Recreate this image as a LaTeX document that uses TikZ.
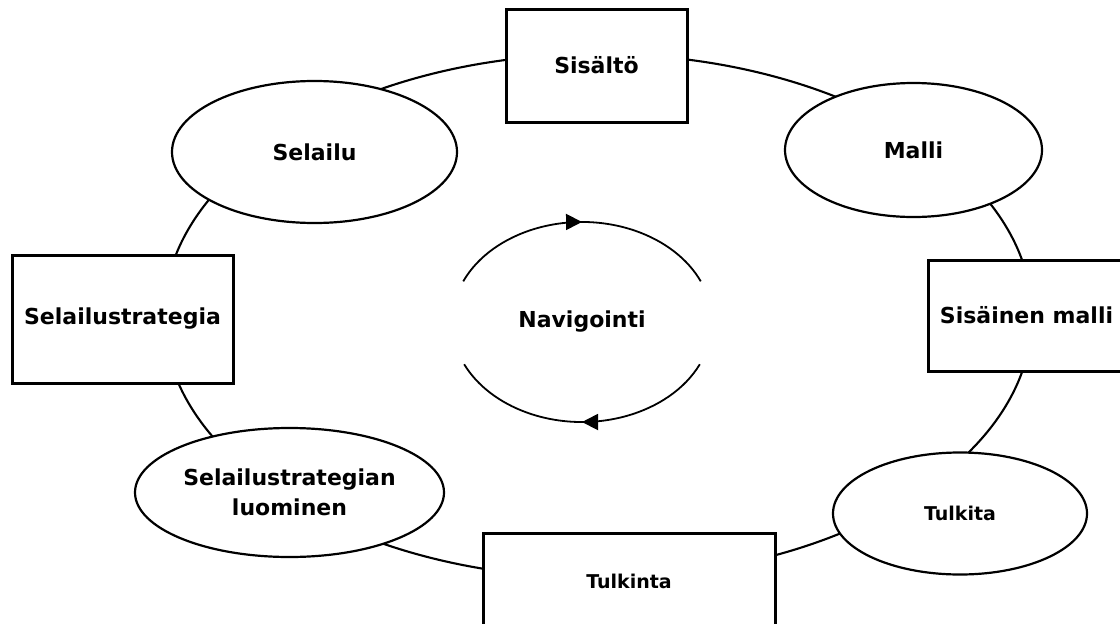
\documentclass[tikz,border=0pt]{standalone}
\usepackage{fontspec}
\setmainfont{DejaVu Sans}
\usetikzlibrary{shapes.geometric,arrows.meta,decorations.markings}
\begin{document}
\begin{tikzpicture}[x=1pt,y=-1pt,
  every node/.style={font=\fontsize{22}{30}\selectfont\bfseries, inner sep=0pt, align=center},
  smalltext/.style={font=\fontsize{19}{26}\selectfont\bfseries},
  stage/.style={draw, line width=3pt, fill=white, rectangle},
  activity/.style={draw, line width=2.2pt, fill=white, ellipse},
  ringline/.style={draw, line width=2.1pt, ellipse},
  navarc/.style={line width=1.8pt, postaction={decorate},
    decoration={markings, mark=at position 0.5 with {\arrow{Triangle[length=16pt,width=16pt]}}}}
]
\useasboundingbox (0,0) rectangle (1120,624);
\clip (0,0) rectangle (1120,624);

% the cycle that ties all stages together
\node[ringline, minimum width=868pt, minimum height=524pt] (ring) at (598,316) {};

% rectangular stages
\node[stage, minimum width=181pt, minimum height=113pt] (sisalto) at (596.5,65.5) {Sisältö};
\node[stage, minimum width=197pt, minimum height=111pt] (sisainen) at (1026.5,315.5) {Sisäinen malli};
\node[stage, minimum width=292pt, minimum height=97pt, smalltext] (tulkinta) at (629,581.5) {Tulkinta};
\node[stage, minimum width=221pt, minimum height=128pt] (strategia) at (122.5,319) {Selailustrategia};

% elliptical activities
\node[activity, minimum width=285pt, minimum height=142pt] (selailu) at (314.5,152) {Selailu};
\node[activity, minimum width=257pt, minimum height=134pt] (malli) at (913.5,150) {Malli};
\node[activity, minimum width=254pt, minimum height=122pt, smalltext] (tulkita) at (960,513.5) {Tulkita};
\node[activity, minimum width=309pt, minimum height=129pt] (luominen) at (289.5,492.5) {Selailustrategian\\luominen};

% central navigation loop
\node (nav) at (582,322) {Navigointi};
\draw[navarc] ([shift={(-156:130 and 100)}]nav.center)
  arc[start angle=-156, end angle=-24, x radius=130, y radius=100];
\draw[navarc] ([shift={(25:130 and 100)}]nav.center)
  arc[start angle=25, end angle=155, x radius=130, y radius=100];
\end{tikzpicture}
\end{document}
